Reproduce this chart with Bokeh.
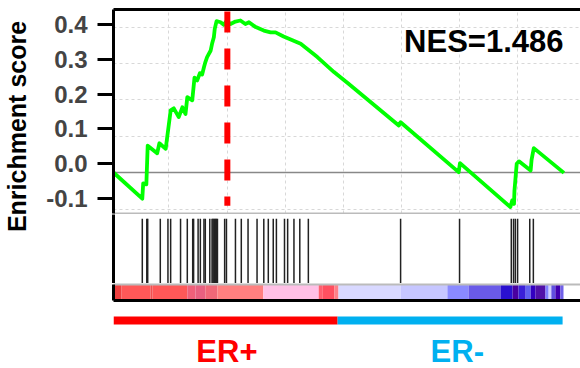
import math
from bokeh.plotting import figure
from bokeh.layouts import column, row
from bokeh.models import Range1d, FixedTicker, LinearAxis, CustomJSTickFormatter
from bokeh.core.properties import value
from bokeh.embed import file_html
from bokeh.resources import INLINE

# ---------------- data ----------------
es_rank = [0, 64, 66, 73, 76, 97, 102, 116, 127, 134, 145, 153, 160, 164, 175, 180,
           186, 192, 197, 201, 204, 208, 216, 219, 223, 225, 229, 238, 245, 251, 260,
           271, 282, 293, 301, 316, 334, 349, 360, 378, 416, 453, 490, 523, 634, 638,
           767, 770, 882, 886, 890, 891, 896, 901, 927, 929, 934, 1001]
es_score = [-0.025, -0.100, -0.056, -0.059, 0.052, 0.030, 0.059, 0.043, 0.153, 0.159,
            0.134, 0.162, 0.143, 0.191, 0.182, 0.247, 0.239, 0.260, 0.256, 0.277, 0.291,
            0.306, 0.325, 0.344, 0.363, 0.387, 0.409, 0.406, 0.399, 0.409, 0.401, 0.408,
            0.411, 0.401, 0.406, 0.392, 0.382, 0.377, 0.377, 0.365, 0.344, 0.306, 0.263,
            0.229, 0.110, 0.119, -0.024, 0.002, -0.124, -0.105, -0.115, -0.077, 0.000,
            0.007, -0.019, 0.011, 0.045, -0.026]
hit_rank = [64, 74, 76, 104, 121, 127, 149, 164, 176, 178, 188, 193, 201, 204, 214, 219,
            221, 223, 225, 227, 229, 231, 247, 251, 271, 284, 299, 319, 334, 344, 355, 362,
            380, 387, 401, 414, 433, 638, 769, 884, 889, 893, 898, 925, 933]
heat_start = [0, 18, 82, 87, 164, 182, 204, 231, 333, 456, 464, 491, 500, 638, 742, 789,
              860, 887, 900, 916, 927, 938, 960, 967, 973, 982, 993]
heat_end = heat_start[1:] + [1000]
heat_color = ["#EE4040", "#FF5858", "#F05050", "#FF5858", "#F0607A", "#E86080", "#F06878",
              "#FF8080", "#FFC0E6", "#FF6070", "#FF5060", "#FF8088", "#D8D8FF", "#C6C6FF",
              "#8A8AFF", "#6A5AE8", "#2A10D0", "#4A00A0", "#3A20D8", "#6060F0", "#3300C0",
              "#5010A8", "#8080FF", "#D0D0FF", "#6050E0", "#4000B0", "#7060E8"]
group_names = ["ER+", "ER-"]
group_start = [0, 498]
group_end = [498, 998]
group_color = ["#FF0000", "#00B0F0"]
group_label_x = [252, 764]
y_ticks = [-0.1, 0.0, 0.1, 0.2, 0.3, 0.4]
grid_x = [123, 253, 382, 512, 640, 769, 898]
grid_y = [0.392, 0.287, 0.183, 0.078, -0.131]
es_baseline = -0.026
peak_rank = 253
nes_text = "NES=1.486"
y_title = "Enrichment score"

# ---------------- layout ----------------
FONT = "Liberation Sans"
LABEL_W = 30
W = 580 - LABEL_W
LEFT = 113 - LABEL_W
H = 368
x_range = Range1d(0, 467 / 0.45)


def border_axis(color, width):
    return LinearAxis(ticker=FixedTicker(ticks=[]), major_tick_out=0, major_tick_in=0,
                      minor_tick_out=0, minor_tick_in=0, major_label_text_font_size="0px",
                      major_label_standoff=0, axis_line_color=color, axis_line_width=width)


def make_fig(h, yr, tb, bb):
    return figure(width=W, height=h, x_range=x_range, y_range=yr, output_backend="svg",
                  toolbar_location=None, min_border_left=LEFT, min_border_right=0,
                  min_border_top=tb, min_border_bottom=bb, outline_line_color=None,
                  x_axis_location=None, y_axis_location=None)

# --- y title strip ---
pl = figure(width=LABEL_W, height=H, x_range=Range1d(0, LABEL_W), y_range=Range1d(0, H),
            output_backend="svg", toolbar_location=None, min_border=0,
            outline_line_color=None, x_axis_location=None, y_axis_location=None)
pl.grid.visible = False
pl.text(x=[16.3], y=[H - 126], text=[y_title], angle=math.pi / 2, text_align="center",
        text_baseline="middle", text_font=value(FONT), text_font_style="bold",
        text_font_size="25px", text_color="black")

# --- enrichment score panel ---
p1 = make_fig(214, Range1d(-0.1425, 0.4425), 9, 1)
p1.add_layout(border_axis("black", 3), "above")
p1.add_layout(border_axis("#BBBBBB", 2), "below")
ya = LinearAxis(ticker=FixedTicker(ticks=y_ticks),
                formatter=CustomJSTickFormatter(code="return tick.toFixed(1)"),
                major_tick_out=16, major_tick_in=0, major_tick_line_width=3,
                minor_tick_out=0, minor_tick_in=0, axis_line_width=3,
                major_label_standoff=10, major_label_text_font=FONT,
                major_label_text_font_style="bold", major_label_text_font_size="24px")
p1.add_layout(ya, "left")
p1.xgrid.ticker = FixedTicker(ticks=grid_x)
p1.ygrid.ticker = FixedTicker(ticks=grid_y)
p1.grid.grid_line_color = "#D8D8D8"
p1.grid.grid_line_dash = "3 3"
p1.grid.grid_line_width = 1

p1.hspan(y=[es_baseline], line_color="#888888", line_width=1.3)
p1.line(es_rank, es_score, line_color="#00FF00", line_width=3.8, line_join="round")
p1.segment(x0=[peak_rank], x1=[peak_rank], y0=[0.437], y1=[-0.12],
           line_color="#FF0000", line_width=6, line_dash="21 16")
p1.text(x=[1000], y=[0.3507], text=[nes_text], text_align="right", text_baseline="middle",
        text_font=value(FONT), text_font_style="bold", text_font_size="31px", text_color="black")

# --- hits panel ---
p2 = make_fig(69, Range1d(0, 1), 0, 0)
p2.add_layout(border_axis("black", 3), "left")
p2.grid.visible = False
p2.segment(x0=hit_rank, x1=hit_rank, y0=0, y1=0.94, line_color="#222222", line_width=1.5)

# --- heatmap panel ---
p3 = make_fig(19, Range1d(0, 1), 1, 2)
p3.add_layout(border_axis("black", 3), "left")
p3.add_layout(border_axis("#BBBBBB", 2), "above")
p3.add_layout(border_axis("black", 3), "below")
p3.grid.visible = False
p3.quad(left=heat_start, right=heat_end, bottom=0, top=1, fill_color=heat_color, line_color=None)

# --- group bars ---
p4 = make_fig(66, Range1d(0, 66), 0, 0)
p4.grid.visible = False
p4.quad(left=group_start, right=group_end, bottom=44, top=52, fill_color=group_color, line_color=None)
p4.text(x=group_label_x, y=[17.5, 17.5], text=group_names, text_color=group_color, text_align="center",
        text_baseline="middle", text_font=value(FONT), text_font_style="bold",
        text_font_size="31px")

layout = row(pl, column(p1, p2, p3, p4, spacing=0), spacing=0)
open("out.html", "w").write(file_html(layout, INLINE))
